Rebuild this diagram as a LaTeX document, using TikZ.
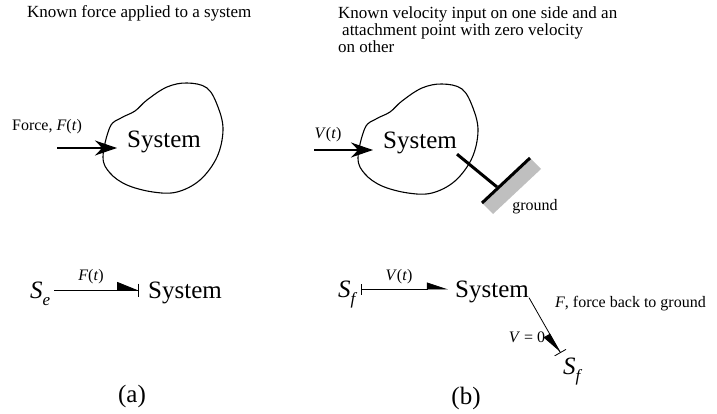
\documentclass[tikz,border=0pt]{standalone}
\usepackage{fontspec}
\setmainfont{Liberation Serif}
\usetikzlibrary{arrows.meta}
\newcommand{\bgsub}[2]{\textit{#1}\raisebox{-7pt}{\fontsize{17}{17}\selectfont\textit{#2}}}

\begin{document}
\begin{tikzpicture}[
  x=1pt, y=-1pt,
  note/.style={font=\fontsize{17}{17}\selectfont, inner sep=0, align=left},
  sys/.style={font=\fontsize{25}{25}\selectfont, inner sep=0},
  bgnode/.style={font=\fontsize{25}{25}\selectfont, inner sep=0, text height=17pt, text depth=0pt},
  lbl/.style={font=\fontsize{16}{16}\selectfont, inner sep=0},
  caption/.style={font=\fontsize{25}{25}\selectfont, inner sep=0},
  blob/.style={line width=1.1pt},
  push/.style={-{Stealth[length=22pt,width=15pt]}, line width=1.2pt},
  bond/.style={line width=0.8pt},
  effort/.style={bond, -{Triangle[harpoon,length=20pt,width=16pt] Bar[width=13pt]}},
  flow/.style={bond, {Bar[width=11pt]}-{Triangle[harpoon,length=20pt,width=13pt]}},
  back/.style={bond, -{Triangle[harpoon,swap,length=20pt,width=14pt] Bar[width=13pt]}},
  link/.style={line width=3pt},
]
\useasboundingbox (0,0) rectangle (717,414);

\node[note, anchor=base west] (hda) at (27,18) {Known force applied to a system};
\node[note, anchor=north west] (hdb) at (338,7)
  {Known velocity input on one side and an\\\hspace{4pt}attachment point with zero velocity\\on other};

\foreach \dx/\dy in {0/0, 255/1}
  \draw[blob, shift={(\dx,\dy)}] plot[smooth cycle, tension=0.6] coordinates
    {(110,127) (121,118) (135,111) (147,100) (167,87) (187,83) (207,88) (218,107)
     (223,130) (217,157) (200,180) (177,192) (153,192) (127,185) (110,173) (103,157)};

\node[sys] (sys1) at (164,142) {System};
\node[sys] (sys2) at (420,143) {System};

\coordinate (fin1) at (57,148);
\coordinate (fin2) at (314,150);
\draw[push, shorten >=10pt] (fin1) -- (fin1 -| sys1.west);
\draw[push, shorten >=10pt] (fin2) -- (fin2 -| sys2.west);
\node[lbl] at (47,127) {Force, \textit{F}(\textit{t})};
\node[lbl] at (328,135) {\textit{V}(\textit{t})};

\coordinate (gnda) at (482,203);
\coordinate (gndb) at (530,158);
\coordinate (gat) at (497,187);
\fill[black!25] (gnda) -- (gndb) -- ++(11,11) -- ++(-48,45) -- cycle;
\draw[link] (gnda) -- (gndb);
\draw[link] (sys2.south east) -- (gat);
\node[lbl] (gnd) at (535,207) {ground};

\node[bgnode, anchor=west] (se) at (30,290) {\bgsub{S}{e}};
\node[bgnode, anchor=west] (sysa) at (148,290) {System};
\draw[effort, shorten <=4pt, shorten >=9pt] (se.east) -- (sysa.west);
\node[lbl] at (91,277) {\textit{F}(\textit{t})};

\node[bgnode, anchor=west] (sf1) at (338,289) {\bgsub{S}{f}};
\node[bgnode, anchor=west] (sysb) at (455,289) {System};
\node[bgnode, anchor=west] (sf2) at (563,366) {\bgsub{S}{f}};
\draw[flow, shorten <=3pt, shorten >=7pt] (sf1.east) -- (sysb.west);
\node[lbl] at (399,277) {\textit{V}(\textit{t})};
\draw[back, shorten >=5pt] (sysb.south east) -- (sf2.north west);
\node[lbl, anchor=west] at (555,304) {\textit{F}, force back to ground};
\node[lbl] at (527,337) {\textit{V} = 0};

\node[caption] (capa) at (132,396) {(a)};
\node[caption] (capb) at (466,398) {(b)};
\end{tikzpicture}
\end{document}
